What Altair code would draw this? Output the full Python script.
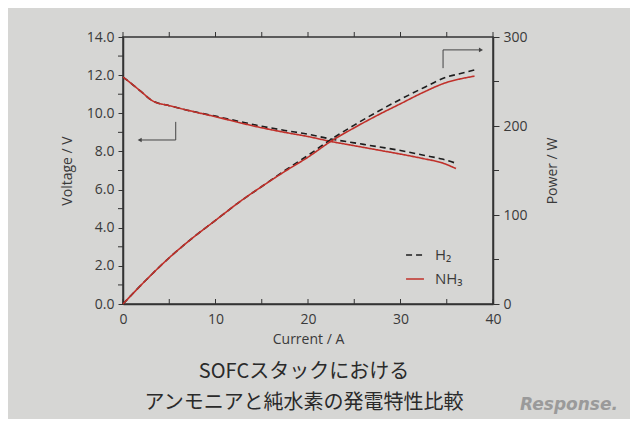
import altair as alt
import pandas as pd

# ---- data ----
series = ["H₂", "NH₃"]

v_current = [0, 1, 2, 3.2, 5, 7.5, 10, 12.5, 15, 17.5, 20, 22.5, 25, 27.5, 30, 32.5, 34.5, 36]
v_h2 = [11.9, 11.52, 11.12, 10.65, 10.4, 10.1, 9.85, 9.58, 9.32, 9.1, 8.9, 8.65, 8.45, 8.25, 8.05, 7.8, 7.6, 7.38]
v_nh3 = [11.9, 11.52, 11.12, 10.65, 10.4, 10.1, 9.82, 9.52, 9.24, 9.0, 8.78, 8.52, 8.3, 8.08, 7.86, 7.62, 7.4, 7.1]

p_current = [0, 2.5, 5, 7.5, 10, 12.5, 15, 17.5, 20, 22.5, 25, 27.5, 30, 32.5, 35, 36.5, 38]
p_h2 = [0, 27, 52, 74, 94, 114, 132, 150, 167, 185, 201, 216, 230, 243, 255, 259, 263]
p_nh3 = [0, 27, 52, 74, 94, 114, 132, 149, 165, 183, 198, 212, 225, 238, 249, 253, 256]

x_ticks = [0, 5, 10, 15, 20, 25, 30, 35, 40]
x_labels = [0, 10, 20, 30, 40]
v_labels = [0, 2, 4, 6, 8, 10, 12, 14]
v_minor = [1, 3, 5, 7, 9, 11, 13]
p_labels = [0, 100, 200, 300]
p_minor = [50, 150, 250]

# annotation arrows (data coordinates)
left_arrow_x = [5.7, 5.7, 1.8]
left_arrow_y = [9.55, 8.6, 8.6]
right_arrow_x = [34.6, 34.6, 38.7]
right_arrow_y = [265, 285.5, 285.5]

title_lines = ["SOFCスタックにおける", "アンモニアと純水素の発電特性比較"]

W, H = 370, 267
TXT = "#3a3a3a"
RED = "#c0302a"

vdf = pd.DataFrame({"I": v_current * 2,
                    "V": v_h2 + v_nh3,
                    "s": [series[0]] * len(v_current) + [series[1]] * len(v_current)})
pdf = pd.DataFrame({"I": p_current * 2,
                    "P": p_h2 + p_nh3,
                    "s": [series[0]] * len(p_current) + [series[1]] * len(p_current)})

xscale = alt.Scale(domain=[0, 40], nice=False)
vscale = alt.Scale(domain=[0, 14], nice=False)
pscale = alt.Scale(domain=[0, 300], nice=False)

leg = alt.Legend(title=None, orient="none", legendX=282, legendY=208,
                 symbolType="stroke", symbolSize=320, symbolStrokeWidth=1.6,
                 labelFontSize=15, labelColor=TXT, labelFont="Open Sans",
                 rowPadding=6, labelOffset=10)
color = alt.Color("s:N", scale=alt.Scale(domain=series, range=["#1e1e1e", RED]), legend=leg)
dash = alt.StrokeDash("s:N", scale=alt.Scale(domain=series, range=[[6, 4], [1, 0]]), legend=leg)

xaxis = alt.Axis(title="Current / A", values=x_labels, ticks=False, tickSize=0,
                 labelPadding=8, titlePadding=6, grid=False, format="d", labelFlush=False,
                 labelOverlap=False)
vaxis = alt.Axis(title="Voltage / V", values=v_labels, tickSize=5, labelPadding=4,
                 titlePadding=12, grid=False, labelOverlap=False, labelFlush=False,
                 format=".1f")
paxis = alt.Axis(title="Power / W", orient="right", values=p_labels, tickSize=6,
                 labelPadding=4, titlePadding=32, grid=False, labelOverlap=False,
                 labelFlush=False, titleAngle=270, format="d")

X = lambda: alt.X("I:Q", scale=xscale, axis=xaxis)
YV = lambda: alt.Y("V:Q", scale=vscale, axis=vaxis)
YP = lambda: alt.Y("P:Q", scale=pscale, axis=paxis)

v_lines = alt.Chart(vdf).mark_line(strokeWidth=1.6, interpolate="monotone").encode(
    x=X(), y=YV(), color=color, strokeDash=dash)

la = pd.DataFrame({"I": left_arrow_x, "V": left_arrow_y, "o": [0, 1, 2]})
v_arrow = alt.Chart(la).mark_line(color="#444", strokeWidth=1).encode(
    x=X(), y=YV(), order="o:Q")
v_head = alt.Chart(la.iloc[[2]]).mark_point(shape="triangle-left", filled=True, color="#444",
                                            size=22, opacity=1).encode(x=X(), y=YV())

ticks_df = pd.DataFrame({"I": x_ticks})
bottom_ticks = alt.Chart(ticks_df).mark_rule(color="#333", strokeWidth=1).encode(
    x=X(), y=alt.value(H), y2=alt.value(H - 5))
top_ticks = alt.Chart(ticks_df).mark_rule(color="#333", strokeWidth=1).encode(
    x=X(), y=alt.value(0), y2=alt.value(-5))
v_minor_ticks = alt.Chart(pd.DataFrame({"V": v_minor})).mark_rule(color="#333", strokeWidth=1).encode(
    y=YV(), x=alt.value(0), x2=alt.value(-5))

watermark = alt.Chart(pd.DataFrame({"t": ["Response."]})).mark_text(
    font="DejaVu Sans", fontSize=17, fontStyle="italic", fontWeight="bold",
    color="#9a9a9a", align="center", baseline="middle").encode(
    x=alt.value(446), y=alt.value(368), text="t:N")

tdf = pd.DataFrame({"t": title_lines})
title1 = alt.Chart(tdf.iloc[[0]]).mark_text(
    font="Noto Sans CJK JP", fontSize=20, color="#2a2a2a", align="center", baseline="middle").encode(
    x=alt.value(181), y=alt.value(335), text="t:N")
title2 = alt.Chart(tdf.iloc[[1]]).mark_text(
    font="Noto Sans CJK JP", fontSize=20, color="#2a2a2a", align="center", baseline="middle").encode(
    x=alt.value(181), y=alt.value(366), text="t:N")

voltage_layer = alt.layer(v_lines, v_arrow, v_head, bottom_ticks, top_ticks, v_minor_ticks,
                          watermark, title1, title2)

p_lines = alt.Chart(pdf).mark_line(strokeWidth=1.6, interpolate="monotone").encode(
    x=X(), y=YP(), color=color, strokeDash=dash)
ra = pd.DataFrame({"I": right_arrow_x, "P": right_arrow_y, "o": [0, 1, 2]})
p_arrow = alt.Chart(ra).mark_line(color="#444", strokeWidth=1).encode(
    x=X(), y=YP(), order="o:Q")
p_head = alt.Chart(ra.iloc[[2]]).mark_point(shape="triangle-right", filled=True, color="#444",
                                            size=22, opacity=1).encode(x=X(), y=YP())
p_minor_ticks = alt.Chart(pd.DataFrame({"P": p_minor})).mark_rule(color="#333", strokeWidth=1).encode(
    y=YP(), x=alt.value(W), x2=alt.value(W + 6))
power_layer = alt.layer(p_lines, p_arrow, p_head, p_minor_ticks)

chart = alt.layer(voltage_layer, power_layer).resolve_scale(y="independent").properties(
    width=W, height=H,
    background="#d6d6d4",
    padding={"left": 115, "top": 29, "right": 137, "bottom": 115},
    autosize=alt.AutoSizeParams(type="none"),
).configure_view(stroke="#333", strokeWidth=1.5).configure_axis(
    labelFont="Open Sans", labelFontSize=14, labelColor=TXT,
    titleFont="Open Sans", titleFontSize=14, titleFontWeight="normal", titleColor=TXT,
    domainColor="#333", domainWidth=1.5, tickColor="#333", tickWidth=1, labelOverlap=False,
)

chart.save("out.html", embed_options={"renderer": "svg", "actions": False})
